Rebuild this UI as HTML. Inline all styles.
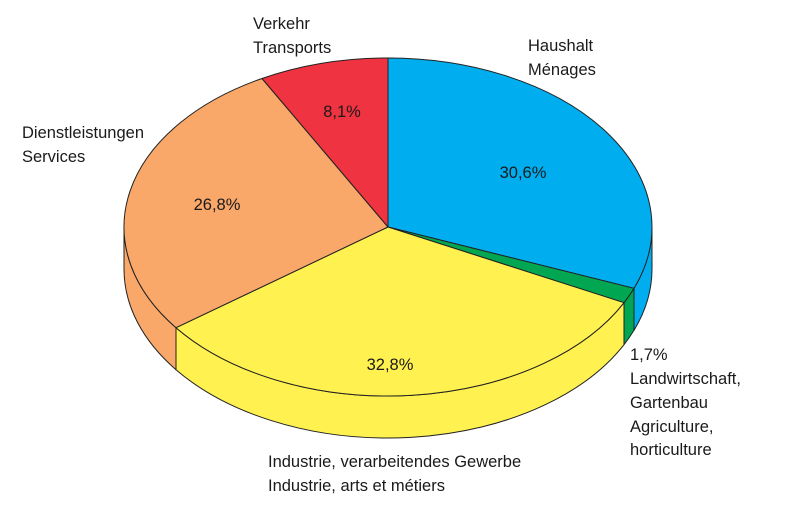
<!DOCTYPE html>
<html><head><meta charset="utf-8"><style>
html,body{margin:0;padding:0;background:#fff}
svg{display:block}
text{font-family:"Liberation Sans",sans-serif;font-size:16.5px;fill:#1a1a1a}
</style></head><body>
<svg width="786" height="518" viewBox="0 0 786 518">
<g stroke="#222" stroke-width="1" stroke-linejoin="round">
<path d="M124,227 A264,169 0 0 0 176,327.7 L176,369.7 A264,169 0 0 1 124,269 Z" fill="#f9a86a"/>
<path d="M176,327.7 A264,169 0 0 0 624,302.7 L624,344.7 A264,169 0 0 1 176,369.7 Z" fill="#fff14f"/>
<path d="M624,302.7 A264,169 0 0 0 634,288.3 L634,330.3 A264,169 0 0 1 624,344.7 Z" fill="#00a651"/>
<path d="M634,288.3 A264,169 0 0 0 652,227 L652,269 A264,169 0 0 1 634,330.3 Z" fill="#00aeef"/>
<path d="M388,227 L388,58 A264,169 0 0 1 634,288.3 Z" fill="#00aeef"/>
<path d="M388,227 L634,288.3 A264,169 0 0 1 624,302.7 Z" fill="#00a651"/>
<path d="M388,227 L624,302.7 A264,169 0 0 1 176,327.7 Z" fill="#fff14f"/>
<path d="M388,227 L176,327.7 A264,169 0 0 1 262,78.5 Z" fill="#f9a86a"/>
<path d="M388,227 L262,78.5 A264,169 0 0 1 388,58 Z" fill="#ef3340"/>
</g>
<text x="253" y="29">Verkehr</text>
<text x="253" y="53">Transports</text>
<text x="528" y="51">Haushalt</text>
<text x="528" y="75">Ménages</text>
<text x="22" y="138">Dienstleistungen</text>
<text x="22" y="162">Services</text>
<text x="523" y="178" text-anchor="middle">30,6%</text>
<text x="342" y="117" text-anchor="middle">8,1%</text>
<text x="217" y="210" text-anchor="middle">26,8%</text>
<text x="390" y="370" text-anchor="middle">32,8%</text>
<text x="630" y="360">1,7%</text>
<text x="630" y="384">Landwirtschaft,</text>
<text x="630" y="408">Gartenbau</text>
<text x="630" y="432">Agriculture,</text>
<text x="630" y="455">horticulture</text>
<text x="268" y="467">Industrie, verarbeitendes Gewerbe</text>
<text x="268" y="491">Industrie, arts et métiers</text>
</svg>
</body></html>
